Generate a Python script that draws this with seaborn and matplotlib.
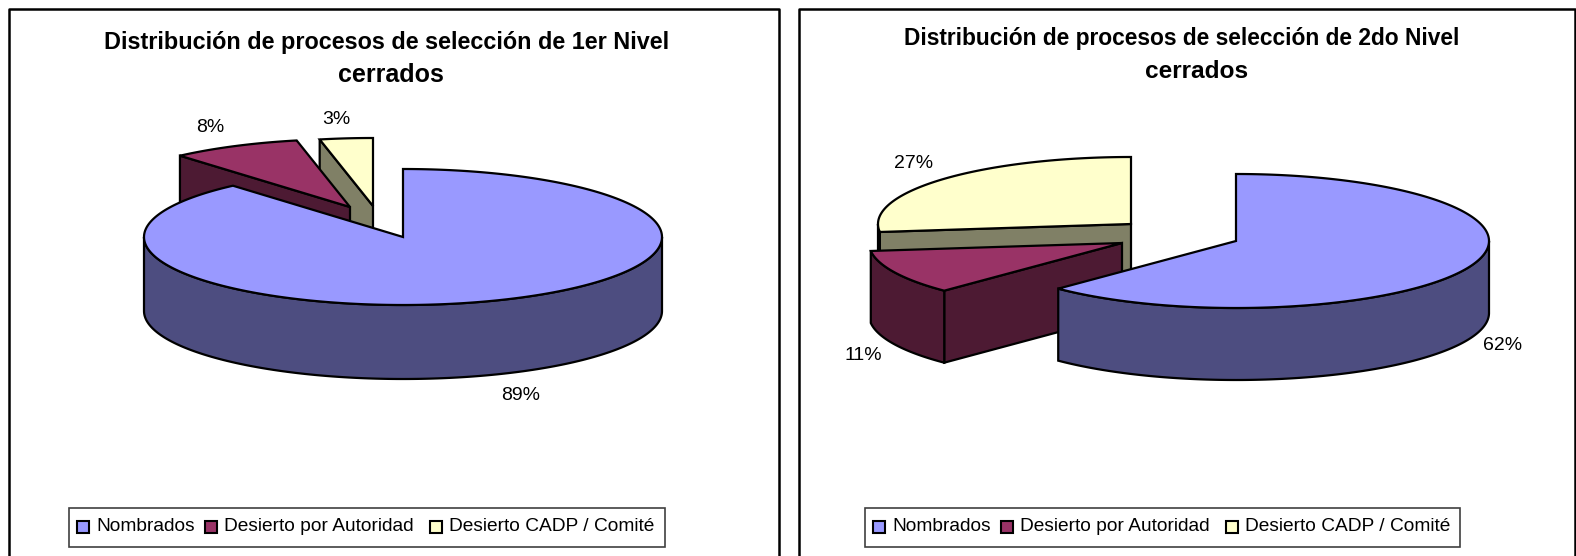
# Distribucion de procesos de seleccion - two exploded 3D style pies
import numpy as np
import matplotlib
matplotlib.use("Agg")
import matplotlib.pyplot as plt
from matplotlib.patches import Polygon, Rectangle
import seaborn as sns

# -----------------------------------------------------------------------------
# data (shares, labels show them rounded)
categories = ["Nombrados", "Desierto por Autoridad", "Desierto CADP / Comité"]
nivel_1 = [88.6, 8.1, 3.3]
nivel_2 = [62.4, 10.7, 26.9]
title_1 = ["Distribución de procesos de selección de 1er Nivel", "cerrados"]
title_2 = ["Distribución de procesos de selección de 2do Nivel", "cerrados"]

# -----------------------------------------------------------------------------
# style
sns.set_theme(style="white")
plt.rcParams["font.family"] = ["Liberation Sans", "DejaVu Sans"]
palette = sns.color_palette(["#9999FF", "#993366", "#FFFFCC"])
W, H = 1576, 556
LW = 1.6


def dark(c):
    return tuple(v * 0.5 for v in c)


def pts(cx, cy, rx, ry, a):
    a = np.radians(a)
    return np.column_stack([cx + rx * np.cos(a), cy - ry * np.sin(a)])


# one slice: walls first, then the top
def draw_slice(ax, cx, cy, rx, ry, depth, start, end, color):
    ec = "black"
    down = np.array([0, depth])
    apex = np.array([[cx, cy]])
    # radial wall on the start edge
    if np.cos(np.radians(start)) < -1e-6:
        p = pts(cx, cy, rx, ry, [start])
        ax.add_patch(Polygon(np.vstack([apex, p, p + down, apex + down]), fc=dark(color), ec=ec, lw=LW))
    # radial wall on the end edge
    if np.cos(np.radians(end)) > 1e-6:
        p = pts(cx, cy, rx, ry, [end])
        ax.add_patch(Polygon(np.vstack([apex, p, p + down, apex + down]), fc=dark(color), ec=ec, lw=LW))
    # outer rim, only the part facing us
    lo, hi = end, start
    for k in range(-2, 2):
        a0, a1 = max(lo, 180 + 360 * k), min(hi, 360 + 360 * k)
        if a1 > a0:
            aa = np.linspace(a0, a1, 200)
            rim = pts(cx, cy, rx, ry, aa)
            ax.add_patch(Polygon(np.vstack([rim, (rim + down)[::-1]]), fc=dark(color), ec=ec, lw=LW))
    # top
    aa = np.linspace(start, end, 300)
    ax.add_patch(Polygon(np.vstack([apex, pts(cx, cy, rx, ry, aa)]), fc=color, ec=ec, lw=LW, joinstyle="miter"))


def draw_panel(ax, values, title, box, pie, offsets, labels_at, title_at, title_size, legend_box):
    # chart frame, bottom is cut by the picture
    x0, x1, y0 = box
    ax.plot([x0, x0, x1, x1], [H + 5, y0, y0, H + 5], color="black", lw=1.8)
    for line, (tx, ty), fs in zip(title, title_at, title_size):
        ax.text(tx, ty, line, ha="center", va="center", fontsize=fs, fontweight="bold", color="black")

    cx, cy, rx, ry, depth = pie
    # clockwise from 12 o'clock
    edges = 90 - np.cumsum([0] + list(values)) * 3.6
    # painter order: back slices first
    for i in [2, 1, 0]:
        dx, dy = offsets[i]
        draw_slice(ax, cx + dx, cy + dy, rx, ry, depth, edges[i], edges[i + 1], palette[i])
    for v, (tx, ty) in zip(values, labels_at):
        ax.text(tx, ty, f"{v:.0f}%", ha="center", va="center", fontsize=14, color="black")

    # legend drawn by hand so it sits like the original box
    lx0, ly0, lx1, ly1 = legend_box
    ax.add_patch(Rectangle((lx0, ly0), lx1 - lx0, ly1 - ly0, fc="white", ec="#404040", lw=1.2))
    x = lx0 + 8
    ym = (ly0 + ly1) / 2 - 1
    for i, name in enumerate(categories):
        ax.add_patch(Rectangle((x, ym - 6), 12, 12, fc=palette[i], ec="black", lw=1.5))
        t = ax.text(x + 19, ym, name, ha="left", va="center", fontsize=13.8, color="black")
        bb = t.get_window_extent(renderer=ax.figure.canvas.get_renderer())
        x = x + 19 + bb.width + [10, 17, 0][i]


fig, ax = plt.subplots(figsize=(W / 100, H / 100), dpi=100)
fig.subplots_adjust(0, 0, 1, 1)
ax.set_xlim(0, W)
ax.set_ylim(H, 0)
ax.axis("off")

draw_panel(ax, nivel_1, title_1, (9, 779, 9),
           (403, 237, 259, 68, 74),
           [(0, 0), (-53, -30), (-30, -31)],
           [(521, 396), (210, 128), (336, 120)],
           [(387, 43), (391, 75)], [16.8, 18], (69, 508, 665, 547))
draw_panel(ax, nivel_2, title_2, (799, 1575, 9),
           (1236, 241, 253, 67, 72),
           [(0, 0), (-114, 2), (-105, -17)],
           [(1503, 346), (863, 356), (914, 163)],
           [(1182, 39), (1197, 71)], [16.4, 17.6], (865, 508, 1460, 547))

plt.savefig("out.png", dpi=100)
